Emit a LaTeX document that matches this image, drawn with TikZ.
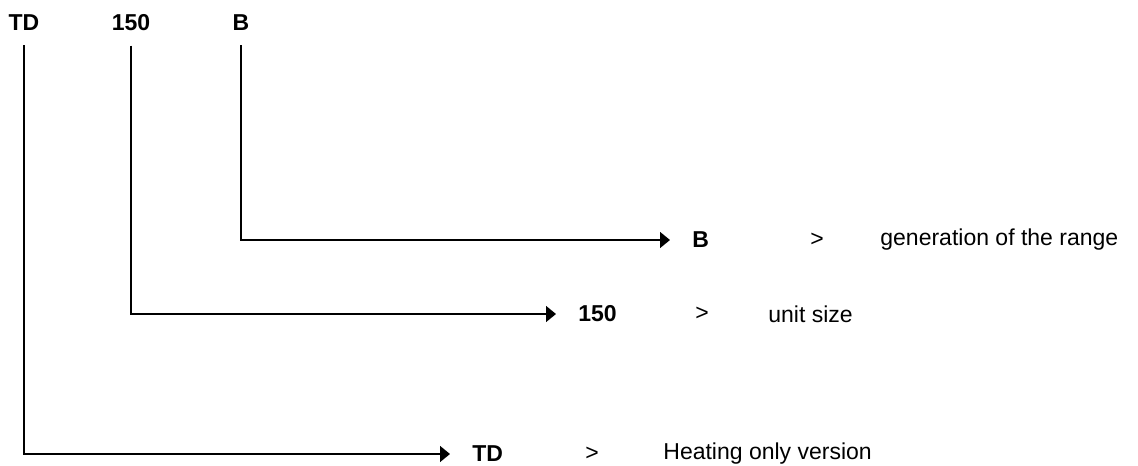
\documentclass[tikz,border=0pt]{standalone}
\usepackage{fontspec}
\setmainfont{Liberation Sans}
\usetikzlibrary{arrows.meta, positioning}

\begin{document}
\begin{tikzpicture}[
        x=0.5pt, y=-0.5pt,
        font=\fontsize{11.5}{14}\selectfont,
        code/.style={font=\fontsize{11.5}{14}\selectfont\bfseries, inner sep=0pt},
        rowtext/.style={anchor=west, inner sep=0pt},
        line/.style={-{Triangle[length=5pt, width=8pt]}, line width=0.7pt, shorten <=7pt, shorten >=11pt}
    ]
    \useasboundingbox (0,0) rectangle (1138,465);

    % Top: model code
    \node[code] (topTD) at (24,23) {TD};
    \node[code] (top150) at (131,23) {150};
    \node[code] (topB) at (241,23) {B};

    % Rows: code > meaning
    \node[code, anchor=west] (rowB) at (692,240) {B};
    \node[rowtext] (gtB) at (810,240) {>};
    \node[rowtext] (descB) at (880,240) {generation of the range};

    \node[code, anchor=west] (row150) at (578,314) {150};
    \node[rowtext] (gt150) at (695,314) {>};
    \node[rowtext] (desc150) at (768,314) {unit size};

    \node[code, anchor=west] (rowTD) at (472,454) {TD};
    \node[rowtext] (gtTD) at (585,454) {>};
    \node[rowtext] (descTD) at (663,454) {Heating only version};

    % Arrows from code to rows
    \draw[line] (topB) |- (rowB.west);
    \draw[line] (top150) |- (row150.west);
    \draw[line] (topTD) |- (rowTD.west);

\end{tikzpicture}
\end{document}
